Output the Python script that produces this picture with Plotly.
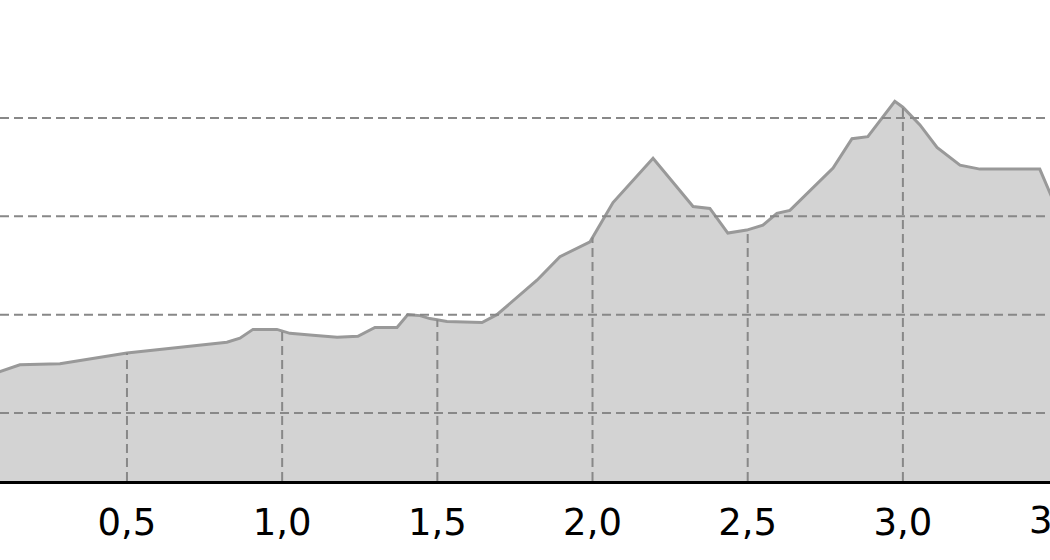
import numpy as np
import plotly.graph_objects as go

# distance (km) and elevation (relative units)
distance = [0.000, 0.091, 0.155, 0.284, 0.500, 0.822, 0.864, 0.906, 0.983, 1.025,
            1.099, 1.177, 1.244, 1.299, 1.370, 1.405, 1.444, 1.476, 1.531, 1.644,
            1.692, 1.821, 1.895, 1.992, 2.066, 2.195, 2.324, 2.378, 2.436, 2.497,
            2.549, 2.594, 2.636, 2.775, 2.836, 2.887, 2.974, 3.000, 3.055, 3.110,
            3.184, 3.248, 3.441, 3.474, 3.520]
elevation = [135, 142, 149, 150, 161, 172, 176, 185, 185, 181,
             179, 177, 178, 187, 187, 200, 199, 196, 193, 192,
             200, 235, 259, 274, 314, 359, 310, 308, 283, 286,
             291, 303, 306, 349, 379, 381, 417, 411, 393, 370,
             352, 348, 348, 324, 290]

x_ticks = [0.5, 1.0, 1.5, 2.0, 2.5, 3.0, 3.5]
y_grid = [100, 200, 300, 400]

x_range = [0.0909, 3.474]
y_range = [30.8, 520.0]

fig = go.Figure()
fig.add_trace(go.Scatter(
    x=distance, y=elevation, mode="lines", fill="tozeroy",
    fillcolor="#d3d3d3", line=dict(color="#999999", width=3),
    hoverinfo="skip", showlegend=False))

dash = "9px,5px"
grid_color = "#888888"
shapes = []
for g in y_grid:
    shapes.append(dict(type="line", xref="paper", yref="y", x0=0, x1=1, y0=g, y1=g,
                       line=dict(color=grid_color, width=2, dash=dash), layer="above"))
for t in x_ticks:
    top = float(np.interp(t, distance, elevation))
    shapes.append(dict(type="line", xref="x", yref="y", x0=t, x1=t, y0=y_range[0], y1=top,
                       line=dict(color=grid_color, width=2, dash=dash), layer="above"))

tick_font = dict(family="DejaVu Sans", size=37, color="black")
# label of the tick that lies past the right edge (only partly visible)
span = x_range[1] - x_range[0]
annotations = [dict(x=(t - x_range[0]) / span, xref="paper", y=0, yref="paper",
                    xanchor="center", yanchor="top", showarrow=False,
                    text=f"{t:.1f}".replace(".", ","), font=tick_font, yshift=-16)
               for t in x_ticks if t > x_range[1]]

fig.update_layout(
    width=1050, height=560,
    margin=dict(l=0, r=0, t=0, b=79, autoexpand=False),
    paper_bgcolor="white", plot_bgcolor="white",
    separators=",.",
    shapes=shapes,
    annotations=annotations,
    xaxis=dict(range=x_range, tickvals=x_ticks, tickformat=".1f",
               showgrid=False, zeroline=False, showline=True,
               linecolor="black", linewidth=3, ticks="", ticklabelstandoff=7,
               tickfont=tick_font),
    yaxis=dict(range=y_range, showgrid=False, zeroline=False, showticklabels=False,
               showline=False, ticks=""),
)
fig.write_html("out.html", config={"displayModeBar": False},
               post_script="document.body.style.margin='0';document.body.style.overflow='hidden';")
